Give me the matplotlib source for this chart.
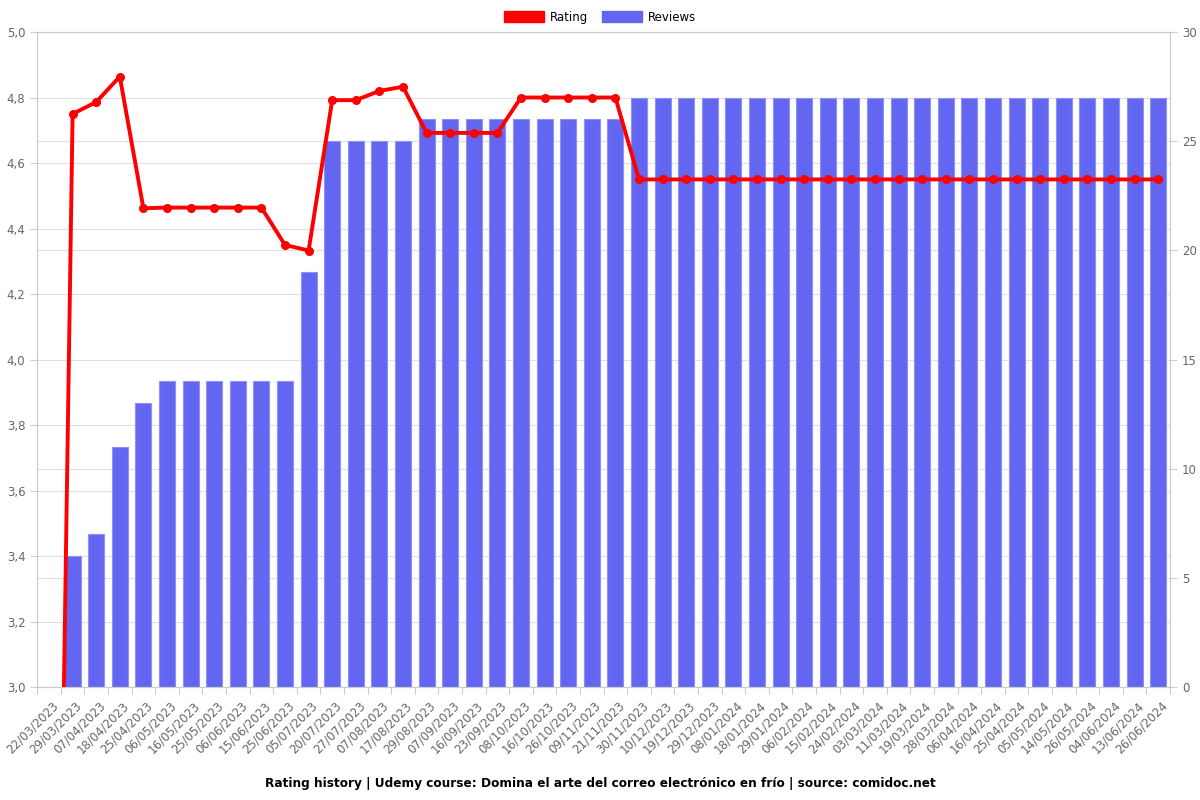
import numpy as np
import matplotlib.pyplot as plt
from matplotlib.patches import Patch
from matplotlib.ticker import FuncFormatter

dates = ['22/03/2023', '29/03/2023', '07/04/2023', '18/04/2023', '25/04/2023', '06/05/2023',
         '16/05/2023', '25/05/2023', '06/06/2023', '15/06/2023', '25/06/2023', '05/07/2023',
         '20/07/2023', '27/07/2023', '07/08/2023', '17/08/2023', '29/08/2023', '07/09/2023',
         '16/09/2023', '23/09/2023', '08/10/2023', '16/10/2023', '26/10/2023', '09/11/2023',
         '21/11/2023', '30/11/2023', '10/12/2023', '19/12/2023', '29/12/2023', '08/01/2024',
         '18/01/2024', '29/01/2024', '06/02/2024', '15/02/2024', '24/02/2024', '03/03/2024',
         '11/03/2024', '19/03/2024', '28/03/2024', '06/04/2024', '16/04/2024', '25/04/2024',
         '05/05/2024', '14/05/2024', '26/05/2024', '04/06/2024', '13/06/2024', '26/06/2024']

rating = [0, 4.75, 4.786, 4.864, 4.462, 4.464, 4.464, 4.464, 4.464, 4.464, 4.35, 4.333,
          4.792, 4.792, 4.82, 4.833, 4.692, 4.692, 4.692, 4.692, 4.8, 4.8, 4.8, 4.8, 4.8] + [4.55] * 23

reviews = [0, 6, 7, 11, 13, 14, 14, 14, 14, 14, 14, 19,
           25, 25, 25, 25, 26, 26, 26, 26, 26, 26, 26, 26, 26] + [27] * 23

x = np.arange(len(dates))

fig = plt.figure(figsize=(12, 8), dpi=100)
ax = fig.add_axes([0.031, 0.141, 0.944, 0.819])
ax2 = ax.twinx()

# bars sit underneath the rating line
ax.set_zorder(2)
ax.patch.set_visible(False)
ax2.set_zorder(1)

ax2.bar(x, reviews, width=0.68, color='#6366f1', edgecolor='#8e91f5', linewidth=0.8, zorder=2)
ax.plot(x, rating, color='#ff0000', linewidth=2.8, marker='o', markersize=5.5, zorder=3, clip_on=True)

ax.set_xlim(-0.5, len(dates) - 0.5)
ax.set_ylim(3.0, 5.0)
ax2.set_ylim(0, 30)

ax.set_xticks(np.arange(-0.5, len(dates), 1))
ax.set_xticklabels([''] + dates, rotation=45, ha='right', fontsize=8.5, color='#666666')
ax.set_yticks(np.arange(3.0, 5.01, 0.2))
ax.yaxis.set_major_formatter(FuncFormatter(lambda v, p: f'{v:.1f}'.replace('.', ',')))
ax2.set_yticks(np.arange(0, 31, 5))
ax2.set_yticks(np.arange(0, 31, 3), minor=True)

ax.tick_params(axis='both', colors='#cccccc', labelcolor='#666666', labelsize=8.5, length=5)
ax2.tick_params(axis='y', colors='#cccccc', labelcolor='#666666', labelsize=8.5, length=5)
ax2.tick_params(axis='y', which='minor', length=0)

ax.grid(False)
ax2.set_axisbelow(True)
ax2.grid(True, axis='x', color='#e0e0e0', linewidth=0.8)
ax2.grid(True, axis='y', which='both', color='#e0e0e0', linewidth=0.8)

for a in (ax, ax2):
    for s in a.spines.values():
        s.set_color('#cccccc')

handles = [Patch(color='#ff0000', label='Rating'), Patch(color='#6366f1', label='Reviews')]
fig.legend(handles=handles, loc='upper center', bbox_to_anchor=(0.5, 1.0), ncol=2, frameon=False,
           fontsize=8.5, handlelength=3.4, handleheight=1.1, columnspacing=1.2, handletextpad=0.5)

fig.text(0.5, 0.016, 'Rating history | Udemy course: Domina el arte del correo electrónico en frío | source: comidoc.net',
         ha='center', fontsize=8.7, fontweight='bold')

plt.savefig('out.png')
